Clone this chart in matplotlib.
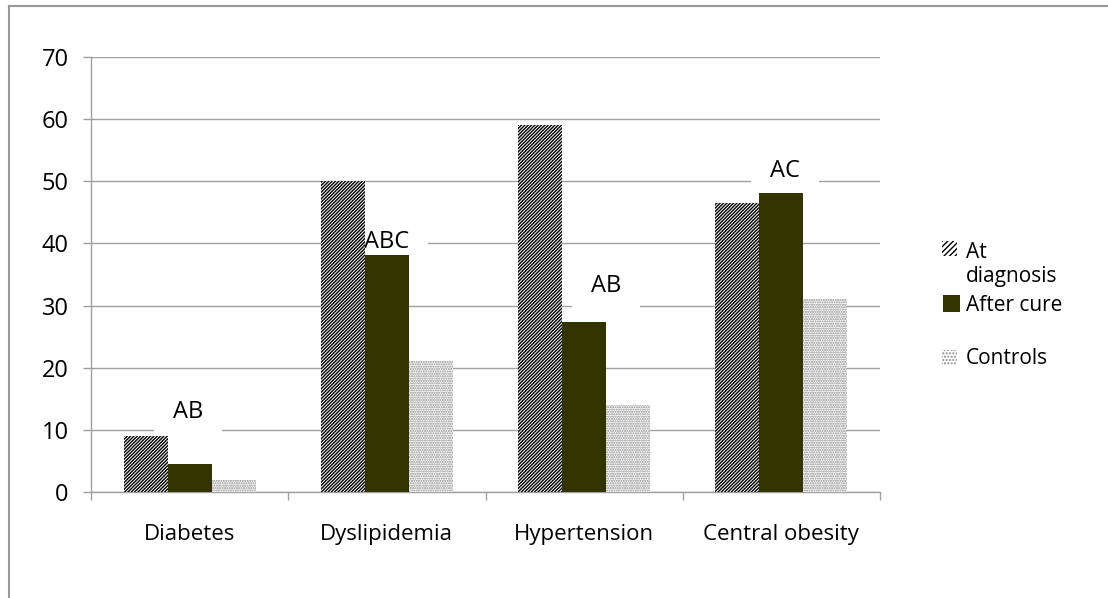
import matplotlib
matplotlib.use("Agg")
import matplotlib.pyplot as plt
import numpy as np
from matplotlib.lines import Line2D
from matplotlib.patches import Rectangle

categories = ["Diabetes", "Dyslipidemia", "Hypertension", "Central obesity"]
series_names = ["At\ndiagnosis", "After cure", "Controls"]
at_diagnosis = [9.0, 50.0, 59.0, 46.5]
after_cure = [4.5, 38.2, 27.4, 48.1]
controls = [1.9, 21.1, 14.0, 31.0]
sig_labels = ["AB", "ABC", "AB", "AC"]
sig_label_x = [-0.01, 1.0, 2.11, 3.02]
sig_label_y = [12.9, 40.2, 33.2, 51.6]
yticks = [0, 10, 20, 30, 40, 50, 60, 70]

plt.rcParams['font.family'] = ['Open Sans', 'DejaVu Sans']
plt.rcParams['hatch.linewidth'] = 1.0

W, H = 1108, 598
fig = plt.figure(figsize=(W / 100, H / 100), dpi=100)
ax = fig.add_axes([91 / W, 106 / H, (880 - 91) / W, (492 - 57) / H])

x = np.arange(len(categories))
bw = 0.223
gray = '#a0a0a0'
olive = '#333300'
hatch_dx = '//////////'
hatch_ctl = '.......'

plt.rcParams['hatch.color'] = 'black'
ax.bar(x - bw, at_diagnosis, bw, color='white', edgecolor='black', hatch=hatch_dx, linewidth=0, zorder=3)
ax.bar(x, after_cure, bw, color=olive, linewidth=0, zorder=3)
ax.bar(x + bw, controls, bw, color='white', edgecolor='#8a8a8a', hatch=hatch_ctl, linewidth=0, zorder=3)

for xi, lab, yv in zip(sig_label_x, sig_labels, sig_label_y):
    ax.text(xi, yv, lab, ha='center', va='center', fontsize=17, zorder=2,
            bbox=dict(facecolor='white', edgecolor='none', boxstyle='square,pad=0.8'))

ax.set_xlim(-0.5, len(categories) - 0.5)
ax.set_ylim(0, 70)
ax.set_yticks(yticks)
ax.set_yticklabels([str(v) for v in yticks], fontsize=17)
ax.yaxis.grid(True, color=gray, linewidth=1.0, zorder=0)
ax.set_axisbelow(True)

ax.set_xticks(x)
ax.set_xticklabels(categories, fontsize=16)
ax.tick_params(axis='x', length=0, pad=23)
ax.set_xticks(np.arange(len(categories) + 1) - 0.5, minor=True)
ax.tick_params(axis='x', which='minor', length=6, color=gray, width=1)
ax.tick_params(axis='y', length=6, color=gray, width=1, pad=10)

for s in ['top', 'right']:
    ax.spines[s].set_visible(False)
for s in ['left', 'bottom']:
    ax.spines[s].set_color(gray)
    ax.spines[s].set_linewidth(1.0)

# outer border (top and left)
fig.add_artist(Line2D([8.5 / W, 8.5 / W], [0, 1 - 5.5 / H], color='#999999', linewidth=1.5, transform=fig.transFigure))
fig.add_artist(Line2D([8.5 / W, 1], [1 - 5.5 / H, 1 - 5.5 / H], color='#999999', linewidth=1.5, transform=fig.transFigure))

# legend drawn in figure pixel space
def fy(py):
    return 1 - py / H

def add_patch(px, py, size, **kw):
    fig.add_artist(Rectangle((px / W, fy(py + size)), size / W, size / H,
                             transform=fig.transFigure, linewidth=0, **kw))

add_patch(942, 241, 15, facecolor='white', edgecolor='black', hatch='//////')
add_patch(943, 295, 17, facecolor=olive)
add_patch(942, 350, 15, facecolor='white', edgecolor='#8a8a8a', hatch='.....')

first, second = series_names[0].split('\n')
fs_leg = 15
fig.text(966 / W, fy(258), first, fontsize=fs_leg, va='baseline', ha='left')
fig.text(966 / W, fy(282), second, fontsize=fs_leg, va='baseline', ha='left')
fig.text(966 / W, fy(311), series_names[1], fontsize=fs_leg, va='baseline', ha='left')
fig.text(966 / W, fy(364), series_names[2], fontsize=fs_leg, va='baseline', ha='left')

fig.savefig('out.png', dpi=100)
